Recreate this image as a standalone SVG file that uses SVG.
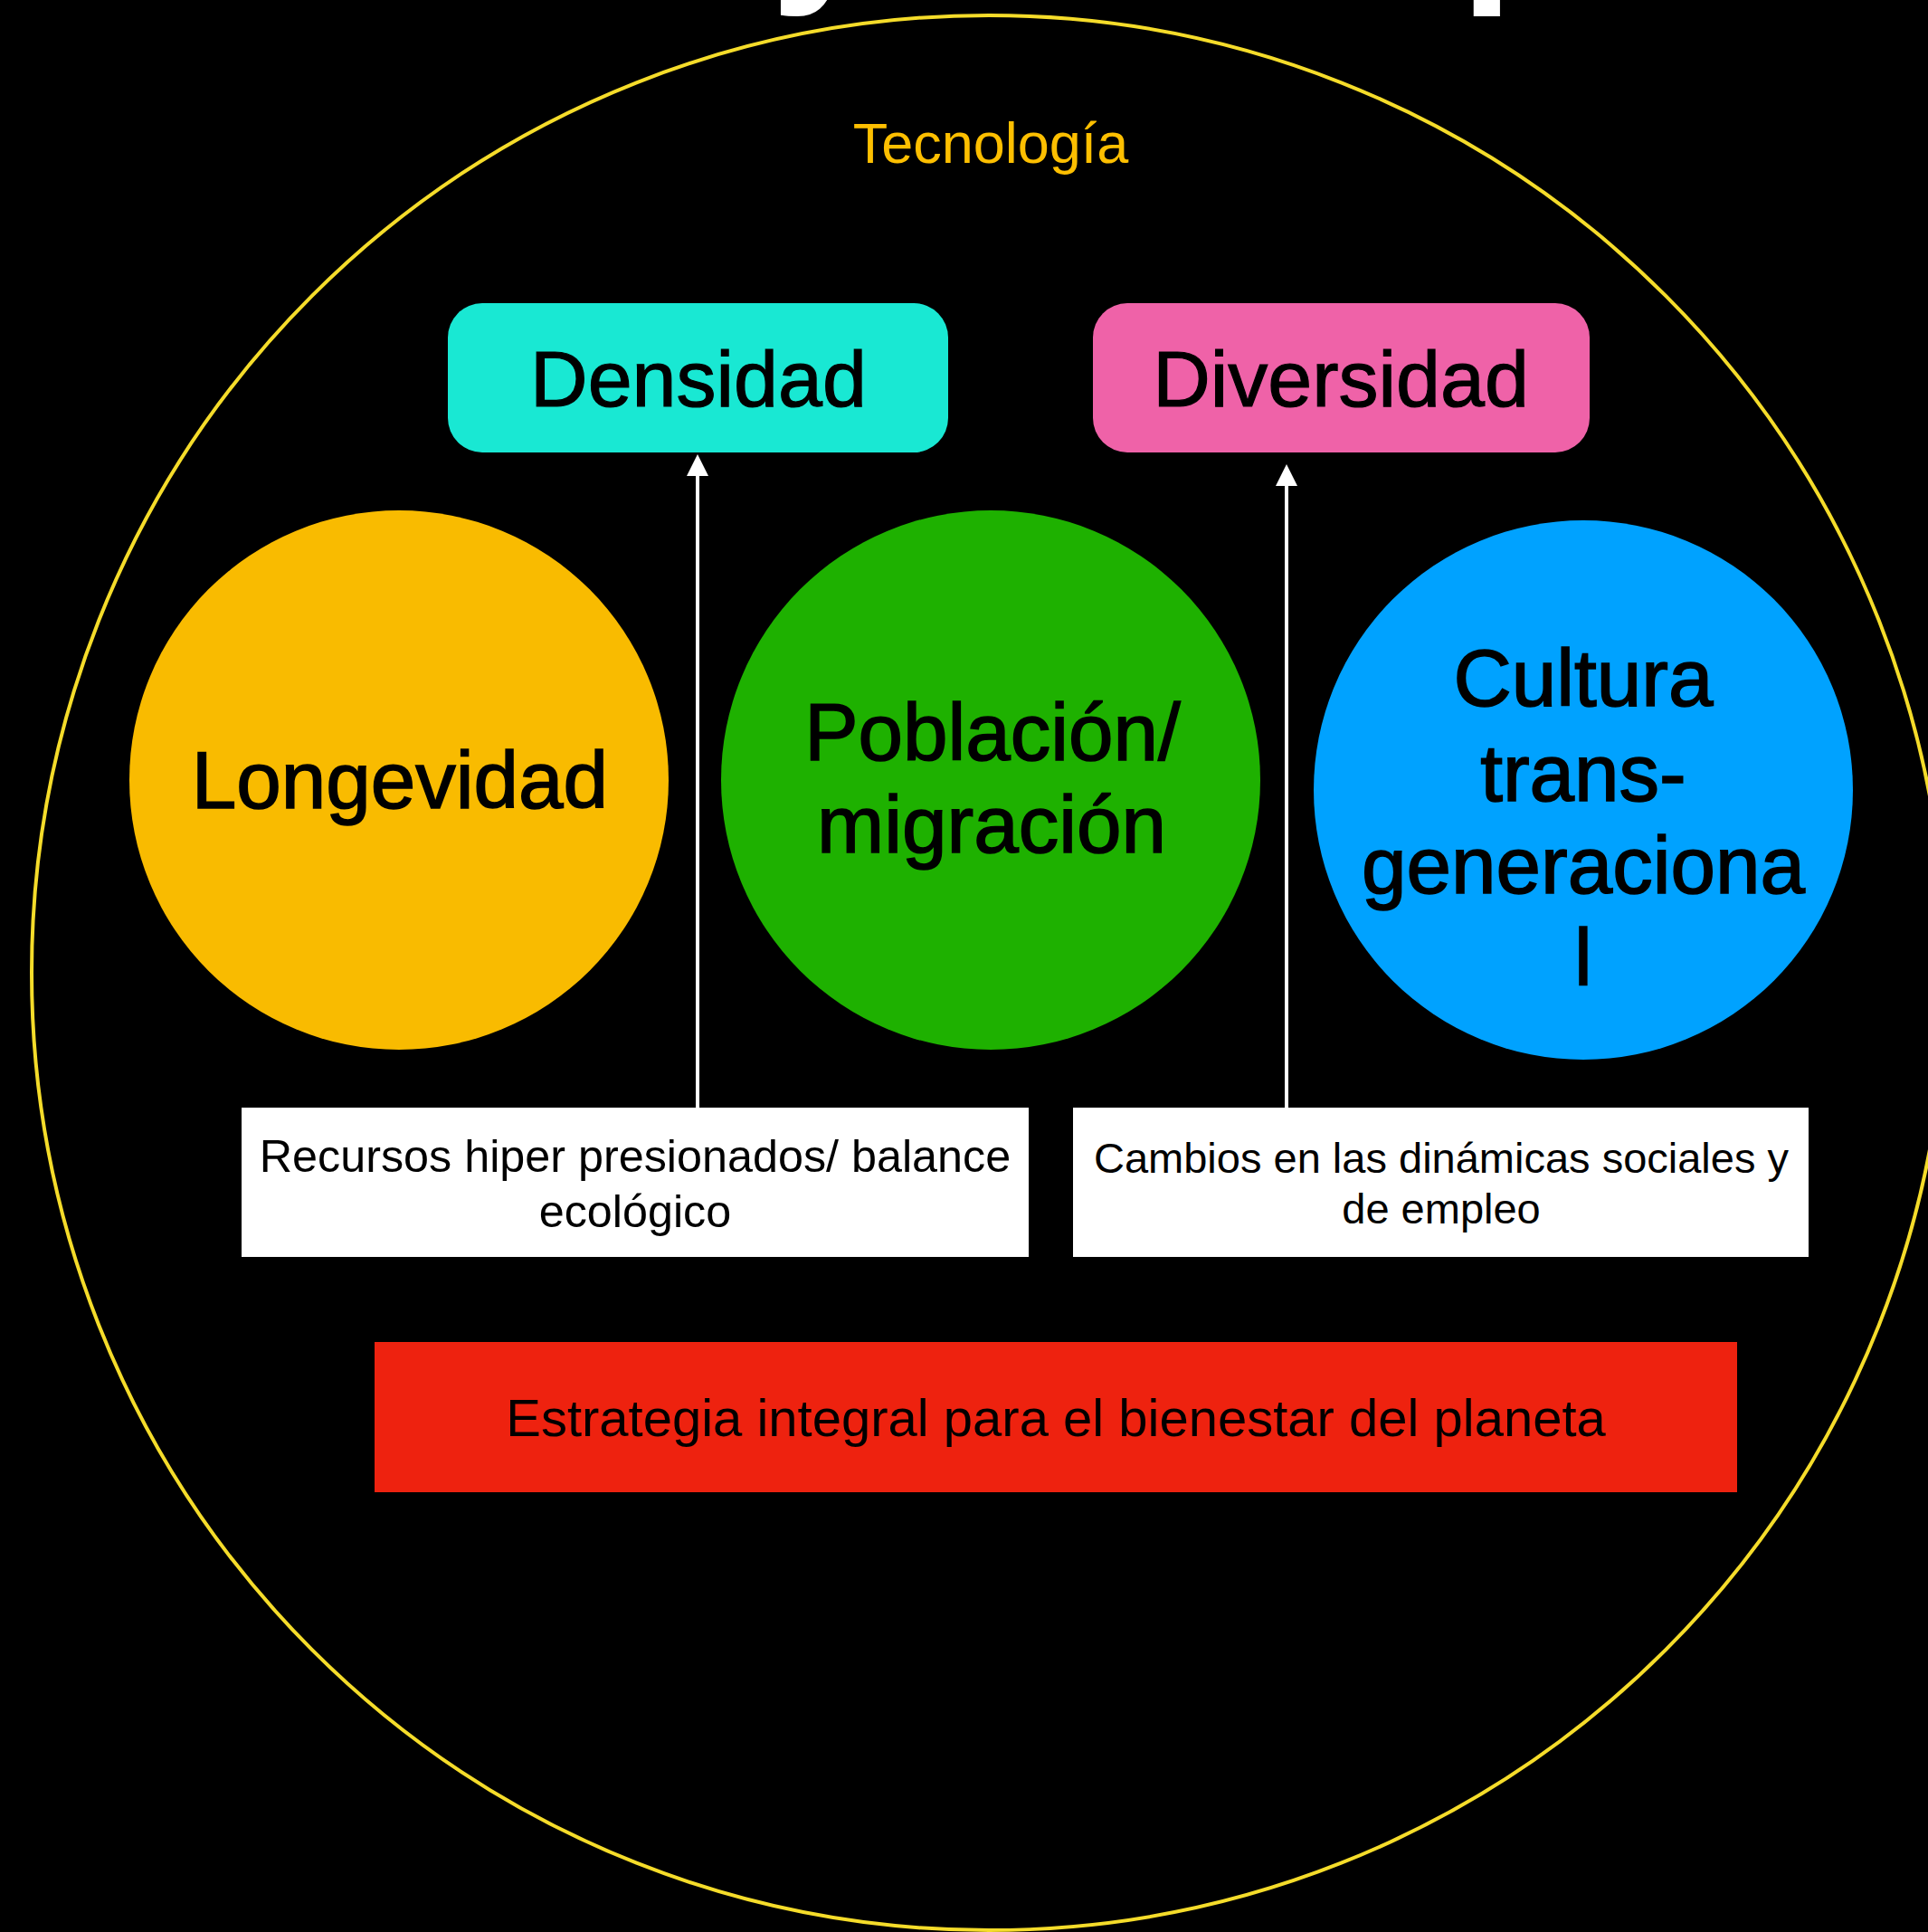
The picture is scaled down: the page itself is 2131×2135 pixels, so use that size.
<svg xmlns="http://www.w3.org/2000/svg" width="2131" height="2135" viewBox="0 0 2131 2135">
<style>
  text { font-family: "Liberation Sans", Arial, Helvetica, sans-serif; text-anchor: middle; fill: #000; }
  .big { font-size: 89px; stroke: #000; stroke-width: 1.6px; }
  .box-label { font-size: 88px; stroke: #000; stroke-width: 1.2px; }
  .title { font-family: "Liberation Sans", Arial, sans-serif; font-weight: bold; font-size: 212px; fill: #fff; text-anchor: start; }
  .conn { stroke: #fff; stroke-width: 4; fill: none; }
</style>
<defs>
  <marker id="arrow" viewBox="0 0 6 6" markerWidth="6" markerHeight="6" refX="0" refY="3" orient="auto" markerUnits="strokeWidth">
    <path d="M0,0 L6,3 L0,6 z" fill="#fff"/>
  </marker>
</defs>
<rect x="0" y="0" width="2131" height="2135" fill="#000"/>

<g id="title-fragment">
  <text class="title" x="852" y="-26">y</text>
  <text class="title" x="1614" y="-26">p</text>
</g>

<g id="tecnologia">
  <circle cx="1093" cy="1075" r="1058" fill="none" stroke="#F5DC2A" stroke-width="4"/>
  <text x="1095" y="180" font-size="63" style="fill:#FDBF00">Tecnología</text>
</g>

<g id="densidad">
  <rect x="495" y="335" width="553" height="165" rx="38" ry="38" fill="#19E8D3"/>
  <text class="box-label" x="772" y="449">Densidad</text>
</g>

<g id="diversidad">
  <rect x="1208" y="335" width="549" height="165" rx="38" ry="38" fill="#EF62A8"/>
  <text class="box-label" x="1482" y="449">Diversidad</text>
</g>

<g id="longevidad">
  <circle cx="441" cy="862" r="298" fill="#F9BB00"/>
  <text class="big" x="442" y="893">Longevidad</text>
</g>

<g id="poblacion">
  <circle cx="1095" cy="862" r="298" fill="#1EB100"/>
  <text class="big" x="1097" y="840" font-size="91">Población/</text>
  <text class="big" x="1096" y="942">migración</text>
</g>

<g id="cultura">
  <circle cx="1750" cy="873" r="298" fill="#00A2FF"/>
  <text class="big" x="1750" y="780">Cultura</text>
  <text class="big" x="1750" y="885">trans-</text>
  <text class="big" x="1750" y="987">generaciona</text>
  <text class="big" x="1750" y="1089">l</text>
</g>

<g id="recursos">
  <rect x="267" y="1224" width="870" height="165" fill="#fff"/>
  <text x="702" y="1295" font-size="50.3">Recursos hiper presionados/ balance</text>
  <text x="702" y="1356" font-size="50.3">ecológico</text>
</g>

<g id="cambios">
  <rect x="1186" y="1224" width="813" height="165" fill="#fff"/>
  <text x="1593" y="1296" font-size="47">Cambios en las dinámicas sociales y</text>
  <text x="1593" y="1352" font-size="47">de empleo</text>
</g>

<g id="estrategia">
  <rect x="414" y="1483" width="1506" height="166" fill="#EE220F"/>
  <text x="1167" y="1587" font-size="58">Estrategia integral para el bienestar del planeta</text>
</g>

<g id="connectors">
  <line class="conn" x1="771" y1="1224" x2="771" y2="526" marker-end="url(#arrow)"/>
  <line class="conn" x1="1422" y1="1224" x2="1422" y2="537" marker-end="url(#arrow)"/>
</g>
</svg>
